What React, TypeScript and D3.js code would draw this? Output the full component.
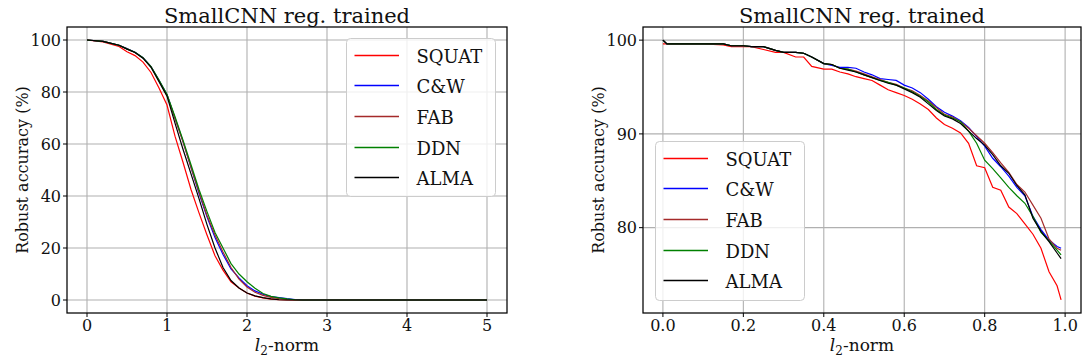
import React from 'react';
import * as d3 from 'd3';

// ---- left panel data (l2-norm 0..5) ----
const leftX = [0, 0.2, 0.4, 0.5, 0.6, 0.7, 0.8, 0.9, 1.0, 1.1, 1.2, 1.3, 1.4, 1.5, 1.6, 1.7, 1.8, 1.9, 2.0, 2.1, 2.2, 2.3, 2.4, 2.5, 2.6, 2.7, 3.0, 4.0, 5.0];
const leftSquat = [100, 99.3, 97.5, 95.5, 94.0, 91.5, 87.5, 81.5, 75.0, 63.0, 53.0, 42.5, 33.5, 25.0, 17.0, 11.5, 7.0, 4.6, 2.7, 1.5, 0.8, 0.3, 0.1, 0, 0, 0, 0, 0, 0];
const leftCW = [100, 99.5, 98.0, 96.7, 95.3, 93.2, 89.8, 84.5, 79.0, 70.0, 61.0, 51.0, 41.0, 32.0, 24.0, 17.5, 12.0, 8.5, 5.5, 3.5, 2.2, 1.3, 0.9, 0.5, 0.2, 0, 0, 0, 0];
const leftFab = [100, 99.5, 98.0, 96.6, 95.2, 93.1, 89.7, 84.3, 78.8, 69.8, 60.8, 51.0, 41.5, 32.5, 25.0, 18.5, 12.5, 8.0, 5.0, 3.0, 1.8, 1.0, 0.5, 0.2, 0, 0, 0, 0, 0];
const leftDdn = [100, 99.5, 98.0, 96.6, 95.3, 93.2, 89.8, 84.6, 79.0, 70.5, 61.5, 52.0, 42.5, 34.0, 26.0, 20.0, 14.0, 10.0, 7.0, 4.5, 2.5, 1.4, 0.8, 0.4, 0.1, 0, 0, 0, 0];
const leftAlma = [100, 99.5, 98.0, 96.5, 95.2, 93.0, 89.5, 84.0, 78.4, 68.0, 58.0, 48.5, 39.0, 29.0, 20.0, 12.5, 7.5, 4.6, 2.7, 1.6, 0.9, 0.4, 0.1, 0, 0, 0, 0, 0, 0];

// ---- right panel data (l2-norm 0..0.99) ----
const rightX = [0, 0.01, 0.05, 0.1, 0.15, 0.17, 0.2, 0.22, 0.25, 0.28, 0.3, 0.33, 0.35, 0.37, 0.4, 0.42, 0.44, 0.46, 0.48, 0.5, 0.52, 0.54, 0.56, 0.58, 0.6, 0.62, 0.64, 0.66, 0.68, 0.7, 0.72, 0.74, 0.76, 0.78, 0.8, 0.82, 0.84, 0.86, 0.88, 0.9, 0.92, 0.94, 0.96, 0.98, 0.99];
const rightSquat = [99.6, 99.6, 99.6, 99.6, 99.5, 99.3, 99.3, 99.3, 99.0, 98.7, 98.7, 98.2, 98.2, 97.2, 96.9, 96.9, 96.6, 96.4, 96.1, 95.9, 95.7, 95.2, 94.7, 94.4, 94.1, 93.7, 93.2, 92.6, 91.7, 91.0, 90.6, 90.1, 89.0, 86.6, 86.4, 84.3, 84.0, 82.2, 81.5, 80.4, 79.3, 77.8, 75.3, 73.8, 72.3];
const rightCW = [100, 99.6, 99.6, 99.6, 99.6, 99.4, 99.4, 99.3, 99.3, 98.9, 98.7, 98.7, 98.6, 98.2, 97.5, 97.3, 97.1, 97.1, 97.0, 96.6, 96.3, 95.9, 95.8, 95.7, 95.2, 94.9, 94.4, 93.7, 92.9, 92.3, 91.9, 91.4, 90.7, 89.7, 88.7, 87.4, 86.5, 85.5, 84.3, 83.4, 81.2, 79.8, 78.7, 78.0, 77.8];
const rightFab = [100, 99.6, 99.6, 99.6, 99.6, 99.4, 99.4, 99.3, 99.3, 98.9, 98.7, 98.7, 98.6, 98.2, 97.5, 97.4, 97.0, 96.9, 96.7, 96.4, 96.1, 95.8, 95.5, 95.3, 94.9, 94.6, 94.1, 93.5, 92.8, 92.1, 91.8, 91.3, 90.6, 89.8, 89.0, 88.0, 86.9, 85.9, 84.6, 83.8, 82.4, 81.0, 78.8, 77.8, 77.6];
const rightDdn = [100, 99.6, 99.6, 99.6, 99.6, 99.4, 99.4, 99.3, 99.3, 98.9, 98.7, 98.7, 98.6, 98.2, 97.5, 97.4, 97.0, 96.9, 96.6, 96.3, 96.0, 95.7, 95.5, 95.2, 94.9, 94.5, 94.0, 93.4, 92.6, 92.0, 91.7, 91.3, 90.3, 89.0, 87.2, 86.3, 85.3, 84.3, 83.4, 82.6, 81.2, 79.5, 78.6, 77.6, 77.1];
const rightAlma = [100, 99.6, 99.6, 99.6, 99.6, 99.4, 99.4, 99.3, 99.3, 98.9, 98.7, 98.7, 98.6, 98.2, 97.5, 97.4, 97.0, 96.8, 96.6, 96.3, 96.0, 95.7, 95.4, 95.2, 94.8, 94.4, 93.9, 93.2, 92.5, 91.9, 91.6, 91.1, 90.3, 89.5, 88.8, 87.8, 86.6, 85.8, 84.5, 83.5, 81.0, 79.6, 78.5, 77.3, 76.7];

const seriesNames = ['SQUAT', 'C&W', 'FAB', 'DDN', 'ALMA'];
const seriesColors = ['#ff0000', '#0000ff', '#a52a2a', '#008000', '#000000'];

const leftXTicks = [0, 1, 2, 3, 4, 5];
const leftYTicks = [0, 20, 40, 60, 80, 100];
const rightXTicks = [0, 0.2, 0.4, 0.6, 0.8, 1.0];
const rightYTicks = [80, 90, 100];

type PanelProps = {
  left: number;
  right: number;
  xDomain: [number, number];
  yDomain: [number, number];
  xs: number[];
  ys: number[][];
  xTicks: number[];
  yTicks: number[];
  xFmt: (v: number) => string;
  legend: { x: number; y: number; w: number; h: number };
};

const TOP = 27;
const BOTTOM = 313;

const Panel = ({ left, right, xDomain, yDomain, xs, ys, xTicks, yTicks, xFmt, legend }: PanelProps) => {
  const x = d3.scaleLinear().domain(xDomain).range([left, right]);
  const y = d3.scaleLinear().domain(yDomain).range([BOTTOM, TOP]);
  const line = d3.line<number>()
    .x((_, i) => x(xs[i]))
    .y(d => y(d));
  const cx = (left + right) / 2;
  const cy = (TOP + BOTTOM) / 2;

  return (
    <g fontFamily="DejaVu Serif" fill="#111">
      <text x={cx} y={23} textAnchor="middle" fontSize={21}>SmallCNN reg. trained</text>
      {/* grid */}
      {xTicks.map(t => (
        <line key={'gx' + t} x1={x(t)} x2={x(t)} y1={TOP} y2={BOTTOM} stroke="#b0b0b0" strokeWidth={1.1} />
      ))}
      {yTicks.map(t => (
        <line key={'gy' + t} x1={left} x2={right} y1={y(t)} y2={y(t)} stroke="#b0b0b0" strokeWidth={1.1} />
      ))}
      {/* series */}
      {ys.map((s, i) => (
        <path key={seriesNames[i]} d={line(s) || ''} fill="none" stroke={seriesColors[i]} strokeWidth={1.2} />
      ))}
      {/* spines */}
      <rect x={left} y={TOP} width={right - left} height={BOTTOM - TOP} fill="none" stroke="#000" strokeWidth={1.25} />
      {/* ticks */}
      {xTicks.map(t => (
        <g key={'tx' + t}>
          <line x1={x(t)} x2={x(t)} y1={BOTTOM} y2={BOTTOM + 4} stroke="#000" />
          <text x={x(t)} y={331} textAnchor="middle" fontSize={16}>{xFmt(t)}</text>
        </g>
      ))}
      {yTicks.map(t => (
        <g key={'ty' + t}>
          <line x1={left - 4} x2={left} y1={y(t)} y2={y(t)} stroke="#000" />
          <text x={left - 6} y={y(t) + 5.8} textAnchor="end" fontSize={16}>{t}</text>
        </g>
      ))}
      {/* axis labels */}
      <text x={cx} y={351} textAnchor="middle" fontSize={17}>
        <tspan fontStyle="italic">l</tspan>
        <tspan dy={4} fontSize={12}>2</tspan>
        <tspan dy={-4}>-norm</tspan>
      </text>
      <text transform={`translate(${left - 39},${cy}) rotate(-90)`} textAnchor="middle" fontSize={16}>Robust accuracy (%)</text>
      {/* legend */}
      <rect x={legend.x + 0.5} y={legend.y + 0.5} width={legend.w} height={legend.h} rx={4} fill="#fff" fillOpacity={0.8} stroke="#cccccc" />
      {seriesNames.map((n, i) => {
        const ry = Math.round(legend.y + 16.5 + i * 30.7) + 0.5;
        return (
          <g key={'lg' + n}>
            <line x1={legend.x + 8.5} x2={legend.x + 53} y1={ry} y2={ry} stroke={seriesColors[i]} strokeWidth={1.4} />
            <text x={legend.x + 70.5} y={ry + 7} fontSize={18}>{n}</text>
          </g>
        );
      })}
    </g>
  );
};

const App = () => {
  return (
    <svg width={1083} height={361} style={{ position: 'absolute', left: 0, top: 0, background: '#fff' }}>
      <Panel
        left={67}
        right={507}
        xDomain={[-0.25, 5.25]}
        yDomain={[-5, 105]}
        xs={leftX}
        ys={[leftSquat, leftCW, leftFab, leftDdn, leftAlma]}
        xTicks={leftXTicks}
        yTicks={leftYTicks}
        xFmt={d3.format('d')}
        legend={{ x: 346, y: 38, w: 149, h: 158 }}
      />
      <Panel
        left={643}
        right={1081}
        xDomain={[-0.0495, 1.0395]}
        yDomain={[70.9, 101.4]}
        xs={rightX}
        ys={[rightSquat, rightCW, rightFab, rightDdn, rightAlma]}
        xTicks={rightXTicks}
        yTicks={rightYTicks}
        xFmt={d3.format('.1f')}
        legend={{ x: 655, y: 141, w: 149, h: 159 }}
      />
    </svg>
  );
};

export default App;
